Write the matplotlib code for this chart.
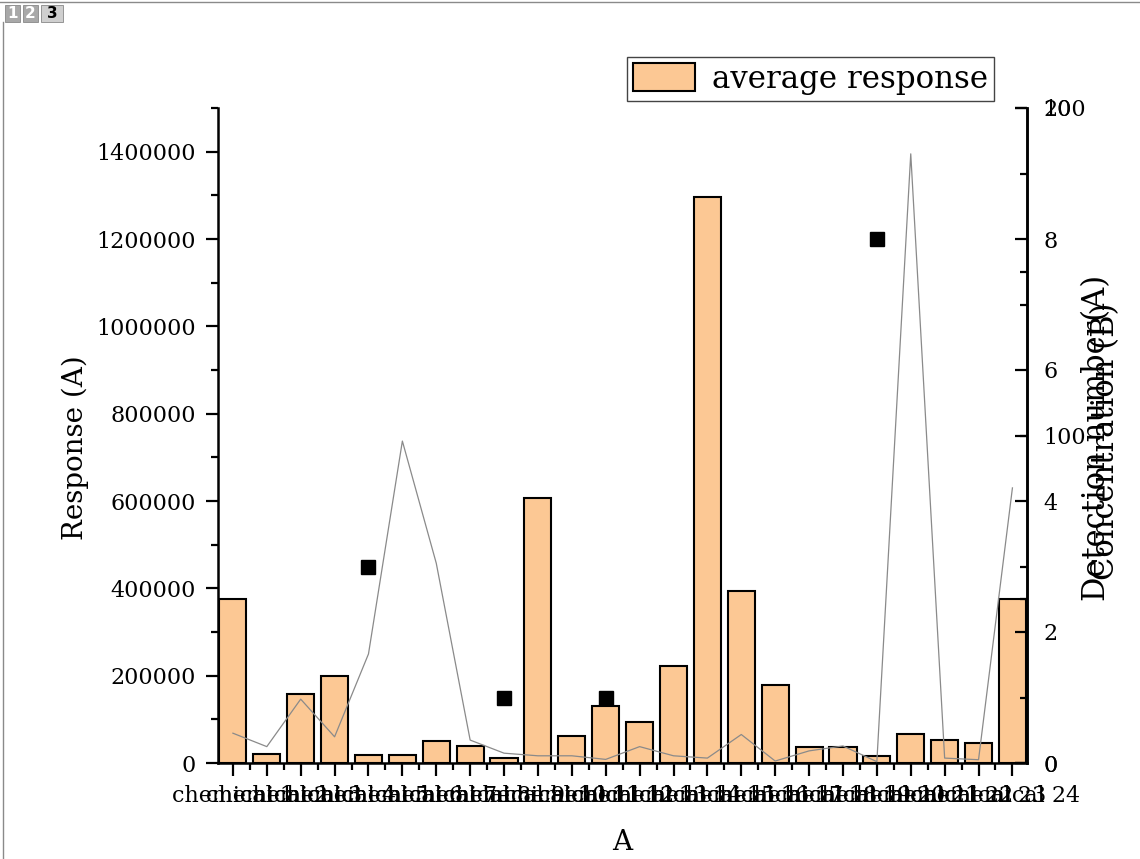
import numpy as np
import matplotlib
matplotlib.use('Agg')
import matplotlib.pyplot as plt
from matplotlib.ticker import MultipleLocator
from matplotlib.patches import Rectangle
from matplotlib.lines import Line2D

plt.rcParams['font.family'] = ['DejaVu Serif']

# data
positions = list(range(1, 25))
tick_labels = ['chemical %d' % i for i in positions]
response = [375000, 20000, 157000, 199000, 18000, 18000, 51000, 39000, 12000,
            608000, 62000, 131000, 93000, 221000, 1297000, 395000, 179000,
            37000, 36000, 17000, 66000, 52000, 46000, 375000]
detection = [np.nan, np.nan, np.nan, np.nan, 3, np.nan, np.nan, np.nan, 1,
             np.nan, np.nan, 1, np.nan, np.nan, np.nan, np.nan, np.nan,
             np.nan, np.nan, 8, np.nan, np.nan, np.nan, np.nan]
concentration = [9.1, 5.0, 19.5, 8.0, 33.3, 98.3, 61.0, 7.0, 3.0, 2.2, 2.2,
                 1.1, 5.0, 2.2, 1.5, 8.7, 0.6, 3.7, 5.2, 0.4, 186, 1.5, 1.0, 84]

W, H = 1140, 859
fig = plt.figure(figsize=(W / 100, H / 100), dpi=100)
ax = fig.add_axes([218 / W, 1 - 763 / H, (1027 - 218) / W, (763 - 108) / H])

ax.bar(positions, response, width=0.8, color='#FCC894', edgecolor='black',
       linewidth=1.5, label='average response')
ax.set_xlim(0.56, 24.43)
ax.set_ylim(0, 1500000)
ax.yaxis.set_major_locator(MultipleLocator(200000))
ax.yaxis.set_minor_locator(MultipleLocator(100000))
ax.ticklabel_format(style='plain', axis='y', useOffset=False)
ax.set_xticks(positions)
ax.set_xticklabels(tick_labels, fontsize=16)
ax.xaxis.set_minor_locator(MultipleLocator(0.5))
ax.tick_params(axis='y', which='major', direction='out', length=9, width=1.6,
               labelsize=16, pad=7)
ax.tick_params(axis='y', which='minor', direction='out', length=5, width=1.6)
ax.tick_params(axis='x', which='major', direction='out', length=9, width=1.6, pad=7)
ax.tick_params(axis='x', which='minor', direction='out', length=5, width=1.6)
for s in ['top', 'right']:
    ax.spines[s].set_visible(False)
for s in ['left', 'bottom']:
    ax.spines[s].set_linewidth(1.8)

# detection number (A) on 0-10 axis
ax2 = ax.twinx()
ax2.plot(positions, detection, 's', color='black', markersize=10)
ax2.set_ylim(0, 10)
ax2.yaxis.set_major_locator(MultipleLocator(2))
ax2.yaxis.set_minor_locator(MultipleLocator(1))

# concentration (B) on 0-200 axis
ax3 = ax.twinx()
ax3.plot(positions, concentration, color='#8a8a8a', linewidth=0.9)
ax3.set_ylim(0, 200)
ax3.yaxis.set_major_locator(MultipleLocator(100))
ax3.yaxis.set_minor_locator(MultipleLocator(50))

for a in (ax2, ax3):
    for s in ['top', 'left', 'bottom']:
        a.spines[s].set_visible(False)
    a.spines['right'].set_linewidth(1.8)
    a.tick_params(axis='y', which='major', direction='in', length=9, width=1.6,
                  labelsize=16, pad=12)
    a.tick_params(axis='y', which='minor', direction='in', length=5, width=1.6)

# axis titles
fig.text(75 / W, 1 - 448 / H, 'Response (A)', rotation=90, fontsize=20,
         ha='center', va='center')
fig.text(622 / W, 1 - 843 / H, 'A', fontsize=20, ha='center', va='center')
fig.text(1097 / W, 1 - 438 / H, 'Detection number(A)', rotation=90, fontsize=22,
         ha='center', va='center')
fig.text(1106 / W, 1 - 441 / H, 'Concentration (B)', rotation=90, fontsize=22,
         ha='center', va='center')

leg = ax.legend(loc='upper left', bbox_to_anchor=(627 / W, 1 - 57 / H),
                bbox_transform=fig.transFigure, fontsize=22.2, frameon=True,
                fancybox=False, framealpha=1, edgecolor='#444444',
                borderaxespad=0, borderpad=0.2, handlelength=2.0,
                handleheight=1.0, handletextpad=0.55)
leg.get_frame().set_linewidth(1.0)

# page tabs and border in the top-left corner
for x0, w, txt, bg, fc in [(5, 15, '1', '#a8a8a8', 'white'),
                           (23, 15, '2', '#a8a8a8', 'white'),
                           (41, 22, '3', '#cfcfcf', 'black')]:
    fig.add_artist(Rectangle((x0 / W, 1 - 22 / H), w / W, 17 / H,
                             transform=fig.transFigure, facecolor=bg,
                             edgecolor='#888888', linewidth=0.6))
    fig.text((x0 + w / 2) / W, 1 - 13.5 / H, txt, fontsize=11, color=fc,
             fontweight='bold', family='DejaVu Sans', ha='center', va='center')
fig.add_artist(Line2D([0, 1], [1 - 1.5 / H, 1 - 1.5 / H], transform=fig.transFigure,
                      color='#8a8a8a', linewidth=1))
fig.add_artist(Line2D([3 / W, 3 / W], [0, 1 - 22 / H], transform=fig.transFigure,
                      color='#8a8a8a', linewidth=1))

fig.savefig('out.png', dpi=100)
